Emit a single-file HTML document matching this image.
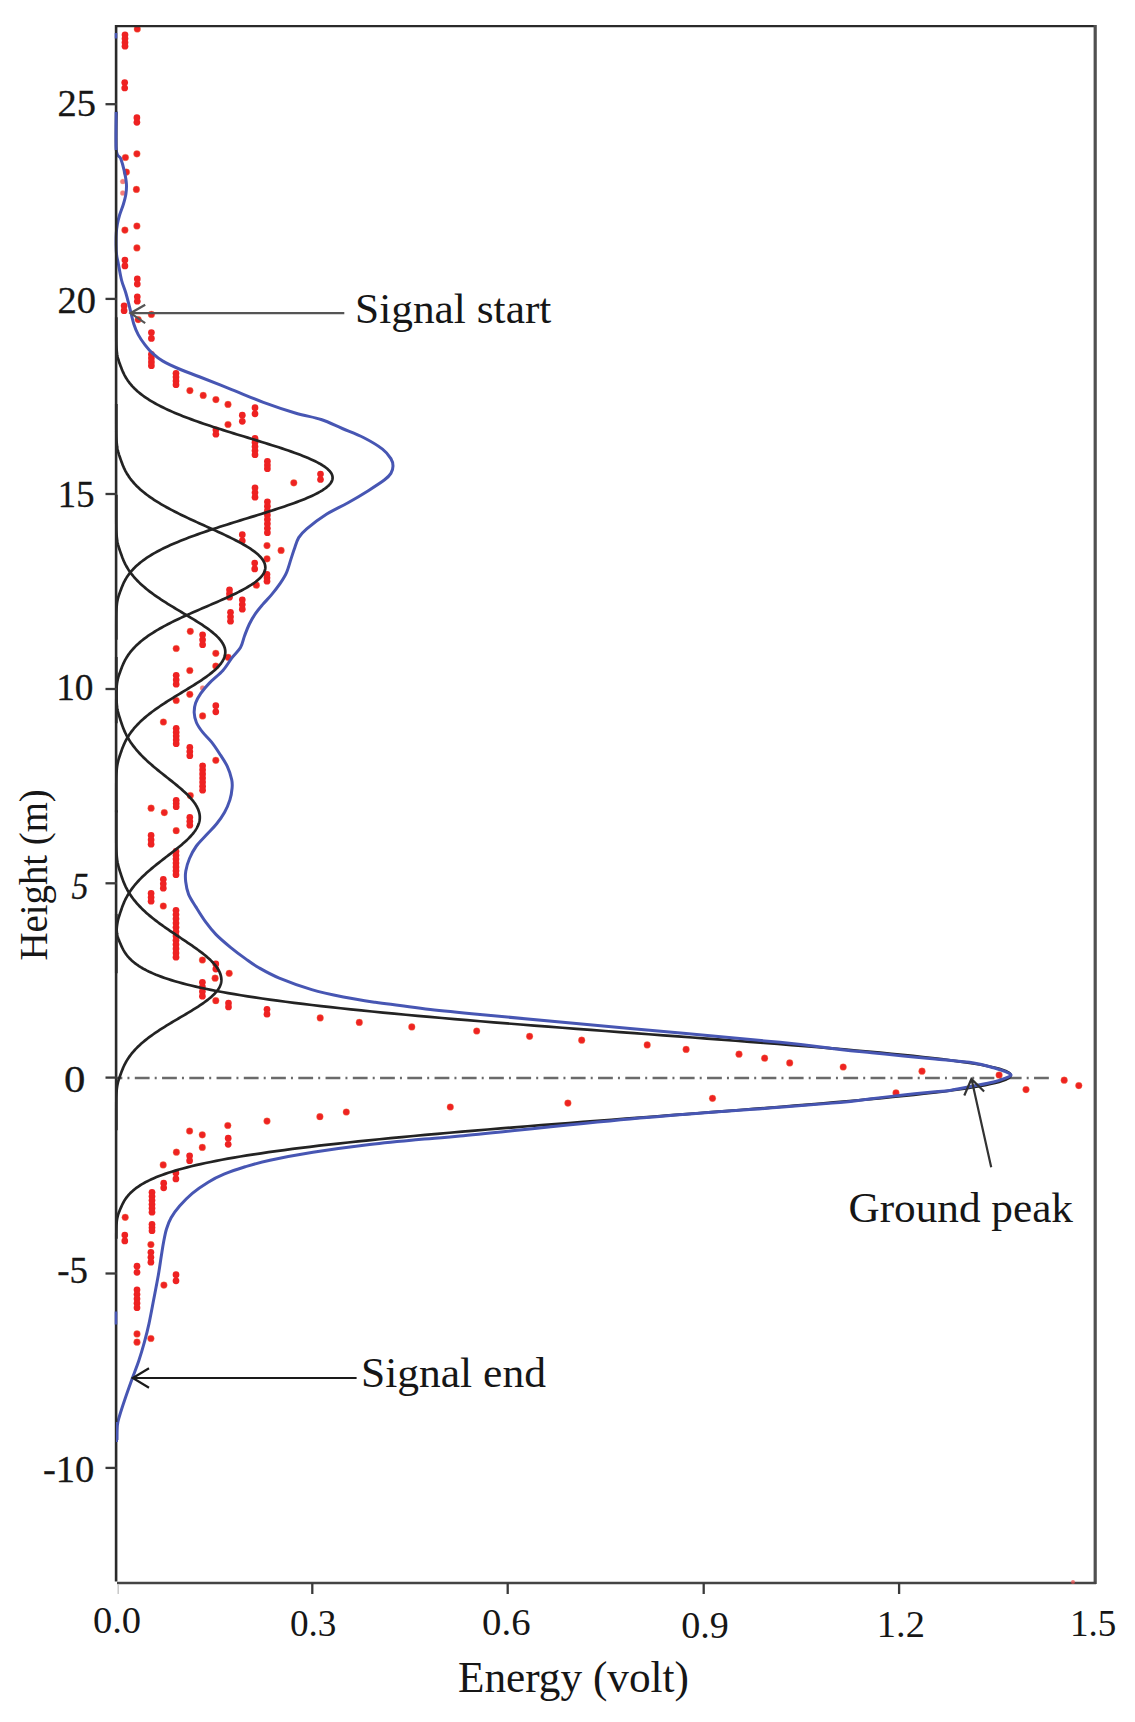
<!DOCTYPE html>
<html><head><meta charset="utf-8"><style>
html,body{margin:0;padding:0;background:#fff;overflow:hidden}
svg{display:block}
text{font-family:"Liberation Serif",serif;fill:#161616}
.yl text{stroke:#161616;stroke-width:0.3px}
</style></head><body>
<svg width="1135" height="1722" viewBox="0 0 1135 1722">
<rect width="1135" height="1722" fill="#fff"/>
<line x1="117" y1="1078" x2="1050" y2="1078" stroke="#6a6a6a" stroke-width="2.4" stroke-dasharray="14.8 5.1 2 5.35" stroke-dashoffset="9.45"/>
<g fill="#ee2222" stroke="#f48a50" stroke-opacity="0.35" stroke-width="1"><circle cx="137.3" cy="29" r="3.35"/><circle cx="136.9" cy="153.8" r="3.35"/><circle cx="125.4" cy="157.5" r="3.35"/><circle cx="126.4" cy="172.1" r="3.35"/><circle cx="136.4" cy="189.4" r="3.35"/><circle cx="136.9" cy="226" r="3.35"/><circle cx="124.9" cy="230.1" r="3.35"/><circle cx="136.9" cy="247.9" r="3.35"/><circle cx="151.4" cy="314.4" r="3.35"/><circle cx="138.2" cy="319.6" r="3.35"/><circle cx="189.9" cy="390.6" r="3.35"/><circle cx="203.2" cy="395.4" r="3.35"/><circle cx="215.9" cy="399.6" r="3.35"/><circle cx="228" cy="404.4" r="3.35"/><circle cx="228" cy="424.5" r="3.35"/><circle cx="293.8" cy="482.8" r="3.35"/><circle cx="267" cy="545.6" r="3.35"/><circle cx="281.1" cy="550.4" r="3.35"/><circle cx="267" cy="558.8" r="3.35"/><circle cx="256.4" cy="585.2" r="3.35"/><circle cx="190.3" cy="631.3" r="3.35"/><circle cx="176.2" cy="648.5" r="3.35"/><circle cx="215.8" cy="653.3" r="3.35"/><circle cx="228.1" cy="657.3" r="3.35"/><circle cx="215.8" cy="666.1" r="3.35"/><circle cx="189.8" cy="670.5" r="3.35"/><circle cx="189.8" cy="694.3" r="3.35"/><circle cx="176.2" cy="700.5" r="3.35"/><circle cx="202.6" cy="715.9" r="3.35"/><circle cx="163.4" cy="722" r="3.35"/><circle cx="215.8" cy="760.3" r="3.35"/><circle cx="190.3" cy="795.5" r="3.35"/><circle cx="151.1" cy="808.2" r="3.35"/><circle cx="164.3" cy="812.6" r="3.35"/><circle cx="176.2" cy="830.7" r="3.35"/><circle cx="163.3" cy="906" r="3.35"/><circle cx="202.4" cy="960" r="3.35"/><circle cx="229.2" cy="973.3" r="3.35"/><circle cx="215.1" cy="978.2" r="3.35"/><circle cx="215.8" cy="1000.7" r="3.35"/><circle cx="320.2" cy="1017.9" r="3.35"/><circle cx="359.3" cy="1022.4" r="3.35"/><circle cx="411.8" cy="1026.9" r="3.35"/><circle cx="476.7" cy="1031" r="3.35"/><circle cx="529.6" cy="1036.3" r="3.35"/><circle cx="581.7" cy="1040.2" r="3.35"/><circle cx="647.2" cy="1044.9" r="3.35"/><circle cx="686.1" cy="1049.4" r="3.35"/><circle cx="739" cy="1054.2" r="3.35"/><circle cx="764.6" cy="1058.2" r="3.35"/><circle cx="789.7" cy="1062.9" r="3.35"/><circle cx="843.2" cy="1067" r="3.35"/><circle cx="922" cy="1071.2" r="3.35"/><circle cx="999.1" cy="1075" r="3.35"/><circle cx="1026" cy="1089.6" r="3.35"/><circle cx="1064.2" cy="1080.2" r="3.35"/><circle cx="1078.8" cy="1085.6" r="3.35"/><circle cx="896" cy="1092.9" r="3.35"/><circle cx="712.5" cy="1098.3" r="3.35"/><circle cx="567.9" cy="1103.1" r="3.35"/><circle cx="450.3" cy="1107" r="3.35"/><circle cx="346.3" cy="1112" r="3.35"/><circle cx="319.9" cy="1116.7" r="3.35"/><circle cx="267" cy="1121.1" r="3.35"/><circle cx="227.8" cy="1125.5" r="3.35"/><circle cx="189.6" cy="1131" r="3.35"/><circle cx="202.3" cy="1134.8" r="3.35"/><circle cx="202.3" cy="1147.4" r="3.35"/><circle cx="176.4" cy="1152.2" r="3.35"/><circle cx="163.2" cy="1164.9" r="3.35"/><circle cx="125.2" cy="1217.3" r="3.35"/><circle cx="150.9" cy="1244.6" r="3.35"/><circle cx="163.9" cy="1285.1" r="3.35"/><circle cx="137" cy="1333.9" r="3.35"/><circle cx="137" cy="1342.2" r="3.35"/><circle cx="150.9" cy="1338.5" r="3.35"/><circle cx="122.8" cy="181.5" r="2.6" opacity="0.6"/><circle cx="202.6" cy="688.1" r="2.6" opacity="0.6"/><circle cx="122.8" cy="193" r="2.6" opacity="0.6"/></g>
<g fill="#ee2222"><circle cx="125" cy="34.8" r="3.35"/><circle cx="125" cy="38.6" r="3.35"/><circle cx="125" cy="42.4" r="3.35"/><circle cx="125" cy="46.2" r="3.35"/><circle cx="124.7" cy="82.49" r="3.35"/><circle cx="124.7" cy="88.01" r="3.35"/><circle cx="136.9" cy="117.72" r="3.35"/><circle cx="136.9" cy="122.28" r="3.35"/><circle cx="124.9" cy="260.07" r="3.35"/><circle cx="124.9" cy="265.93" r="3.35"/><circle cx="137.3" cy="278.9" r="3.35"/><circle cx="137.3" cy="284.1" r="3.35"/><circle cx="137.3" cy="296.73" r="3.35"/><circle cx="137.3" cy="301.27" r="3.35"/><circle cx="124.1" cy="305.81" r="3.35"/><circle cx="124.1" cy="310.69" r="3.35"/><circle cx="151.4" cy="332.57" r="3.35"/><circle cx="151.4" cy="338.43" r="3.35"/><circle cx="151.4" cy="354.3" r="3.35"/><circle cx="151.4" cy="358.1" r="3.35"/><circle cx="151.4" cy="361.9" r="3.35"/><circle cx="151.4" cy="365.7" r="3.35"/><circle cx="176" cy="373.3" r="3.35"/><circle cx="176" cy="377.1" r="3.35"/><circle cx="176" cy="380.9" r="3.35"/><circle cx="176" cy="384.7" r="3.35"/><circle cx="255" cy="407.66" r="3.35"/><circle cx="255" cy="413.84" r="3.35"/><circle cx="242.3" cy="415.16" r="3.35"/><circle cx="242.3" cy="421.34" r="3.35"/><circle cx="215.9" cy="429.73" r="3.35"/><circle cx="215.9" cy="434.27" r="3.35"/><circle cx="255" cy="438.3" r="3.35"/><circle cx="255" cy="442.4" r="3.35"/><circle cx="255" cy="446.5" r="3.35"/><circle cx="255" cy="450.6" r="3.35"/><circle cx="255" cy="454.7" r="3.35"/><circle cx="267.4" cy="461.3" r="3.35"/><circle cx="267.4" cy="465" r="3.35"/><circle cx="267.4" cy="468.7" r="3.35"/><circle cx="320.5" cy="473.99" r="3.35"/><circle cx="320.5" cy="479.51" r="3.35"/><circle cx="255" cy="487.8" r="3.35"/><circle cx="255" cy="492.5" r="3.35"/><circle cx="255" cy="497.2" r="3.35"/><circle cx="267.4" cy="501.8" r="3.35"/><circle cx="267.4" cy="506.21" r="3.35"/><circle cx="267.4" cy="510.63" r="3.35"/><circle cx="267.4" cy="515.04" r="3.35"/><circle cx="267.4" cy="519.46" r="3.35"/><circle cx="267.4" cy="523.87" r="3.35"/><circle cx="267.4" cy="528.29" r="3.35"/><circle cx="267.4" cy="532.7" r="3.35"/><circle cx="242.3" cy="534.66" r="3.35"/><circle cx="242.3" cy="540.84" r="3.35"/><circle cx="254.7" cy="563.08" r="3.35"/><circle cx="254.7" cy="568.92" r="3.35"/><circle cx="267" cy="574.3" r="3.35"/><circle cx="267" cy="577.75" r="3.35"/><circle cx="267" cy="581.2" r="3.35"/><circle cx="229.5" cy="589.8" r="3.35"/><circle cx="229.5" cy="593.5" r="3.35"/><circle cx="229.5" cy="597.2" r="3.35"/><circle cx="242.3" cy="599.8" r="3.35"/><circle cx="242.3" cy="604.5" r="3.35"/><circle cx="242.3" cy="609.2" r="3.35"/><circle cx="230.5" cy="612.3" r="3.35"/><circle cx="230.5" cy="616.75" r="3.35"/><circle cx="230.5" cy="621.2" r="3.35"/><circle cx="202.6" cy="634.8" r="3.35"/><circle cx="202.6" cy="639.75" r="3.35"/><circle cx="202.6" cy="644.7" r="3.35"/><circle cx="176.2" cy="675.3" r="3.35"/><circle cx="176.2" cy="679.75" r="3.35"/><circle cx="176.2" cy="684.2" r="3.35"/><circle cx="215.8" cy="705.66" r="3.35"/><circle cx="215.8" cy="711.84" r="3.35"/><circle cx="176.2" cy="728.3" r="3.35"/><circle cx="176.2" cy="732.15" r="3.35"/><circle cx="176.2" cy="736" r="3.35"/><circle cx="176.2" cy="739.85" r="3.35"/><circle cx="176.2" cy="743.7" r="3.35"/><circle cx="189.8" cy="747.3" r="3.35"/><circle cx="189.8" cy="751.5" r="3.35"/><circle cx="189.8" cy="755.7" r="3.35"/><circle cx="202.6" cy="765.8" r="3.35"/><circle cx="202.6" cy="769.87" r="3.35"/><circle cx="202.6" cy="773.93" r="3.35"/><circle cx="202.6" cy="778" r="3.35"/><circle cx="202.6" cy="782.07" r="3.35"/><circle cx="202.6" cy="786.13" r="3.35"/><circle cx="202.6" cy="790.2" r="3.35"/><circle cx="176.2" cy="800.25" r="3.35"/><circle cx="176.2" cy="803.5" r="3.35"/><circle cx="176.2" cy="806.75" r="3.35"/><circle cx="189.8" cy="817.3" r="3.35"/><circle cx="189.8" cy="821.25" r="3.35"/><circle cx="189.8" cy="825.2" r="3.35"/><circle cx="151.1" cy="835.3" r="3.35"/><circle cx="151.1" cy="839.75" r="3.35"/><circle cx="151.1" cy="844.2" r="3.35"/><circle cx="176" cy="851.3" r="3.35"/><circle cx="176" cy="855.2" r="3.35"/><circle cx="176" cy="859.1" r="3.35"/><circle cx="176" cy="863" r="3.35"/><circle cx="176" cy="866.9" r="3.35"/><circle cx="176" cy="870.8" r="3.35"/><circle cx="176" cy="874.7" r="3.35"/><circle cx="163.3" cy="879.3" r="3.35"/><circle cx="163.3" cy="883.75" r="3.35"/><circle cx="163.3" cy="888.2" r="3.35"/><circle cx="151.1" cy="893.3" r="3.35"/><circle cx="151.1" cy="897.25" r="3.35"/><circle cx="151.1" cy="901.2" r="3.35"/><circle cx="176" cy="910.3" r="3.35"/><circle cx="176" cy="914.56" r="3.35"/><circle cx="176" cy="918.83" r="3.35"/><circle cx="176" cy="923.09" r="3.35"/><circle cx="176" cy="927.35" r="3.35"/><circle cx="176" cy="931.62" r="3.35"/><circle cx="176" cy="935.88" r="3.35"/><circle cx="176" cy="940.15" r="3.35"/><circle cx="176" cy="944.41" r="3.35"/><circle cx="176" cy="948.67" r="3.35"/><circle cx="176" cy="952.94" r="3.35"/><circle cx="176" cy="957.2" r="3.35"/><circle cx="215.8" cy="963.9" r="3.35"/><circle cx="215.8" cy="969.1" r="3.35"/><circle cx="202.4" cy="982.3" r="3.35"/><circle cx="202.4" cy="986.93" r="3.35"/><circle cx="202.4" cy="991.57" r="3.35"/><circle cx="202.4" cy="996.2" r="3.35"/><circle cx="228.5" cy="1003.05" r="3.35"/><circle cx="228.5" cy="1006.95" r="3.35"/><circle cx="267" cy="1009.31" r="3.35"/><circle cx="267" cy="1014.19" r="3.35"/><circle cx="228.2" cy="1138.16" r="3.35"/><circle cx="228.2" cy="1144.34" r="3.35"/><circle cx="189.6" cy="1155.81" r="3.35"/><circle cx="189.6" cy="1160.69" r="3.35"/><circle cx="175.9" cy="1173.08" r="3.35"/><circle cx="175.9" cy="1178.92" r="3.35"/><circle cx="163.7" cy="1183.22" r="3.35"/><circle cx="163.7" cy="1187.78" r="3.35"/><circle cx="152" cy="1192.3" r="3.35"/><circle cx="152" cy="1196.28" r="3.35"/><circle cx="152" cy="1200.26" r="3.35"/><circle cx="152" cy="1204.24" r="3.35"/><circle cx="152" cy="1208.22" r="3.35"/><circle cx="152" cy="1212.2" r="3.35"/><circle cx="152" cy="1224.25" r="3.35"/><circle cx="152" cy="1227.5" r="3.35"/><circle cx="152" cy="1230.75" r="3.35"/><circle cx="124.8" cy="1235.08" r="3.35"/><circle cx="124.8" cy="1240.92" r="3.35"/><circle cx="150.9" cy="1252.3" r="3.35"/><circle cx="150.9" cy="1257.25" r="3.35"/><circle cx="150.9" cy="1262.2" r="3.35"/><circle cx="137" cy="1266.16" r="3.35"/><circle cx="137" cy="1272.34" r="3.35"/><circle cx="176" cy="1274.66" r="3.35"/><circle cx="176" cy="1280.84" r="3.35"/><circle cx="137" cy="1289.8" r="3.35"/><circle cx="137" cy="1294.28" r="3.35"/><circle cx="137" cy="1298.75" r="3.35"/><circle cx="137" cy="1303.22" r="3.35"/><circle cx="137" cy="1307.7" r="3.35"/></g>
<g fill="none" stroke="#232323" stroke-width="2.7" stroke-linejoin="round"><path d="M116.3 317.31L116.3 318.39L116.3 319.46L116.3 320.54L116.3 321.61L116.3 322.69L116.3 323.76L116.3 324.84L116.3 325.91L116.3 326.98L116.3 328.06L116.3 329.13L116.3 330.21L116.3 331.28L116.3 332.36L116.31 333.43L116.31 334.51L116.31 335.58L116.31 336.65L116.32 337.73L116.32 338.8L116.33 339.88L116.34 340.95L116.35 342.03L116.37 343.1L116.39 344.18L116.42 345.25L116.45 346.32L116.49 347.4L116.55 348.47L116.61 349.55L116.7 350.62L116.8 351.7L116.92 352.77L117.06 353.85L117.23 354.92L117.44 355.99L117.67 357.07L117.93 358.14L118.23 359.22L118.55 360.29L118.9 361.37L119.27 362.44L119.65 363.52L120.05 364.59L120.45 365.66L120.86 366.74L121.28 367.81L121.7 368.89L122.13 369.96L122.57 371.04L123.04 372.11L123.54 373.19L124.06 374.26L124.61 375.34L125.2 376.41L125.82 377.48L126.47 378.56L127.17 379.63L127.9 380.71L128.67 381.78L129.48 382.86L130.34 383.93L131.24 385.01L132.19 386.08L133.19 387.15L134.24 388.23L135.34 389.3L136.49 390.38L137.69 391.45L138.96 392.53L140.27 393.6L141.65 394.68L143.09 395.75L144.59 396.82L146.15 397.9L147.77 398.97L149.46 400.05L151.21 401.12L153.03 402.2L154.92 403.27L156.87 404.35L158.9 405.42L160.99 406.49L163.15 407.57L165.38 408.64L167.68 409.72L170.05 410.79L172.49 411.87L174.99 412.94L177.57 414.02L180.21 415.09L182.91 416.16L185.69 417.24L188.52 418.31L191.42 419.39L194.38 420.46L197.39 421.54L200.46 422.61L203.59 423.69L206.76 424.76L209.99 425.84L213.26 426.91L216.57 427.98L219.92 429.06L223.31 430.13L226.72 431.21L230.17 432.28L233.63 433.36L237.12 434.43L240.62 435.51L244.13 436.58L247.65 437.65L251.16 438.73L254.67 439.8L258.17 440.88L261.65 441.95L265.11 443.03L268.55 444.1L271.95 445.18L275.31 446.25L278.63 447.32L281.9 448.4L285.12 449.47L288.27 450.55L291.36 451.62L294.37 452.7L297.31 453.77L300.16 454.85L302.92 455.92L305.59 456.99L308.16 458.07L310.62 459.14L312.98 460.22L315.22 461.29L317.34 462.37L319.34 463.44L321.21 464.52L322.95 465.59L324.55 466.66L326.02 467.74L327.35 468.81L328.53 469.89L329.56 470.96L330.45 472.04L331.19 473.11L331.77 474.19L332.2 475.26L332.47 476.34L332.59 477.41L332.56 478.48L332.37 479.56L332.04 480.63L331.55 481.71L330.91 482.78L330.12 483.86L329.18 484.93L328.1 486.01L326.88 487.08L325.52 488.15L324.01 489.23L322.38 490.3L320.61 491.38L318.72 492.45L316.7 493.53L314.56 494.6L312.31 495.68L309.95 496.75L307.48 497.82L304.91 498.9L302.24 499.97L299.48 501.05L296.64 502.12L293.71 503.2L290.71 504.27L287.64 505.35L284.5 506.42L281.31 507.49L278.06 508.57L274.76 509.64L271.43 510.72L268.05 511.79L264.65 512.87L261.22 513.94L257.76 515.02L254.3 516.09L250.82 517.16L247.34 518.24L243.86 519.31L240.39 520.39L236.92 521.46L233.47 522.54L230.03 523.61L226.62 524.69L223.24 525.76L219.89 526.84L216.57 527.91L213.29 528.98L210.05 530.06L206.86 531.13L203.71 532.21L200.61 533.28L197.57 534.36L194.58 535.43L191.64 536.51L188.77 537.58L185.96 538.65L183.21 539.73L180.52 540.8L177.89 541.88L175.34 542.95L172.84 544.03L170.42 545.1L168.06 546.18L165.77 547.25L163.55 548.32L161.4 549.4L159.31 550.47L157.3 551.55L155.34 552.62L153.46 553.7L151.64 554.77L149.89 555.85L148.2 556.92L146.58 557.99L145.01 559.07L143.51 560.14L142.07 561.22L140.69 562.29L139.37 563.37L138.1 564.44L136.89 565.52L135.73 566.59L134.62 567.66L133.57 568.74L132.56 569.81L131.6 570.89L130.69 571.96L129.83 573.04L129 574.11L128.22 575.19L127.48 576.26L126.77 577.34L126.11 578.41L125.48 579.48L124.88 580.56L124.32 581.63L123.79 582.71L123.29 583.78L122.81 584.86L122.36 585.93L121.92 587.01L121.5 588.08L121.09 589.15L120.68 590.23L120.28 591.3L119.88 592.38L119.49 593.45L119.12 594.53L118.76 595.6L118.42 596.68L118.11 597.75L117.83 598.82L117.58 599.9L117.36 600.97L117.17 602.05L117.01 603.12L116.88 604.2L116.76 605.27L116.67 606.35L116.59 607.42L116.53 608.49L116.48 609.57L116.44 610.64L116.41 611.72L116.39 612.79L116.37 613.87L116.35 614.94L116.34 616.02L116.33 617.09L116.32 618.16L116.32 619.24L116.31 620.31L116.31 621.39L116.31 622.46L116.31 623.54L116.3 624.61L116.3 625.69L116.3 626.76L116.3 627.84L116.3 628.91L116.3 629.98L116.3 631.06L116.3 632.13L116.3 633.21L116.3 634.28L116.3 635.36L116.3 636.43L116.3 637.51L116.3 638.58L116.3 639.65"/><path d="M116.3 404.01L116.3 405.08L116.3 406.14L116.3 407.2L116.3 408.27L116.3 409.33L116.3 410.4L116.3 411.46L116.3 412.52L116.3 413.59L116.3 414.65L116.3 415.72L116.3 416.78L116.3 417.84L116.3 418.91L116.3 419.97L116.3 421.04L116.3 422.1L116.3 423.16L116.31 424.23L116.31 425.29L116.31 426.36L116.31 427.42L116.32 428.48L116.32 429.55L116.33 430.61L116.33 431.68L116.34 432.74L116.35 433.81L116.37 434.87L116.39 435.93L116.41 437L116.44 438.06L116.48 439.13L116.53 440.19L116.58 441.25L116.65 442.32L116.74 443.38L116.84 444.45L116.96 445.51L117.1 446.57L117.27 447.64L117.46 448.7L117.68 449.77L117.93 450.83L118.2 451.89L118.5 452.96L118.82 454.02L119.15 455.09L119.51 456.15L119.87 457.22L120.24 458.28L120.62 459.34L120.99 460.41L121.38 461.47L121.76 462.54L122.16 463.6L122.58 464.66L123.01 465.73L123.46 466.79L123.93 467.86L124.43 468.92L124.95 469.98L125.5 471.05L126.08 472.11L126.69 473.18L127.33 474.24L128 475.3L128.7 476.37L129.44 477.43L130.21 478.5L131.02 479.56L131.86 480.63L132.74 481.69L133.66 482.75L134.62 483.82L135.61 484.88L136.65 485.95L137.73 487.01L138.85 488.07L140.01 489.14L141.21 490.2L142.46 491.27L143.75 492.33L145.09 493.39L146.47 494.46L147.9 495.52L149.37 496.59L150.88 497.65L152.45 498.71L154.05 499.78L155.7 500.84L157.4 501.91L159.14 502.97L160.92 504.04L162.75 505.1L164.61 506.16L166.52 507.23L168.47 508.29L170.45 509.36L172.48 510.42L174.54 511.48L176.64 512.55L178.76 513.61L180.92 514.68L183.11 515.74L185.33 516.8L187.57 517.87L189.83 518.93L192.12 520L194.42 521.06L196.74 522.12L199.07 523.19L201.41 524.25L203.76 525.32L206.11 526.38L208.47 527.45L210.82 528.51L213.16 529.57L215.5 530.64L217.82 531.7L220.13 532.77L222.41 533.83L224.68 534.89L226.92 535.96L229.12 537.02L231.3 538.09L233.43 539.15L235.53 540.21L237.58 541.28L239.58 542.34L241.53 543.41L243.42 544.47L245.26 545.53L247.03 546.6L248.74 547.66L250.38 548.73L251.95 549.79L253.44 550.85L254.86 551.92L256.2 552.98L257.45 554.05L258.62 555.11L259.7 556.18L260.69 557.24L261.59 558.3L262.39 559.37L263.1 560.43L263.72 561.5L264.23 562.56L264.65 563.62L264.97 564.69L265.19 565.75L265.3 566.82L265.32 567.88L265.22 568.94L265.02 570.01L264.7 571.07L264.28 572.14L263.74 573.2L263.1 574.26L262.35 575.33L261.5 576.39L260.54 577.46L259.49 578.52L258.33 579.59L257.08 580.65L255.74 581.71L254.3 582.78L252.78 583.84L251.18 584.91L249.49 585.97L247.73 587.03L245.89 588.1L243.98 589.16L242.01 590.23L239.97 591.29L237.88 592.35L235.74 593.42L233.54 594.48L231.3 595.55L229.01 596.61L226.69 597.67L224.34 598.74L221.96 599.8L219.55 600.87L217.12 601.93L214.68 603L212.22 604.06L209.76 605.12L207.29 606.19L204.82 607.25L202.35 608.32L199.89 609.38L197.44 610.44L195 611.51L192.58 612.57L190.18 613.64L187.8 614.7L185.44 615.76L183.11 616.83L180.81 617.89L178.55 618.96L176.32 620.02L174.13 621.08L171.97 622.15L169.85 623.21L167.78 624.28L165.75 625.34L163.77 626.41L161.83 627.47L159.93 628.53L158.09 629.6L156.29 630.66L154.54 631.73L152.84 632.79L151.19 633.85L149.59 634.92L148.04 635.98L146.54 637.05L145.09 638.11L143.69 639.17L142.33 640.24L141.03 641.3L139.77 642.37L138.56 643.43L137.4 644.49L136.28 645.56L135.21 646.62L134.18 647.69L133.2 648.75L132.25 649.82L131.35 650.88L130.49 651.94L129.67 653.01L128.88 654.07L128.14 655.14L127.43 656.2L126.75 657.26L126.11 658.33L125.5 659.39L124.92 660.46L124.37 661.52L123.86 662.58L123.36 663.65L122.9 664.71L122.45 665.78L122.02 666.84L121.61 667.9L121.2 668.97L120.8 670.03L120.41 671.1L120.02 672.16L119.63 673.22L119.26 674.29L118.9 675.35L118.56 676.42L118.24 677.48L117.95 678.55L117.69 679.61L117.46 680.67L117.26 681.74L117.09 682.8L116.94 683.87L116.82 684.93L116.72 685.99L116.63 687.06L116.56 688.12L116.51 689.19L116.46 690.25L116.43 691.31L116.4 692.38L116.38 693.44L116.36 694.51L116.35 695.57L116.34 696.63L116.33 697.7L116.32 698.76L116.32 699.83L116.31 700.89L116.31 701.96L116.31 703.02L116.31 704.08L116.3 705.15L116.3 706.21L116.3 707.28L116.3 708.34L116.3 709.4L116.3 710.47L116.3 711.53L116.3 712.6L116.3 713.66L116.3 714.72L116.3 715.79L116.3 716.85L116.3 717.92L116.3 718.98L116.3 720.04L116.3 721.11L116.3 722.17L116.3 723.24"/><path d="M116.3 494.72L116.3 495.78L116.3 496.84L116.3 497.89L116.3 498.95L116.3 500.01L116.3 501.07L116.3 502.13L116.3 503.19L116.3 504.25L116.3 505.31L116.3 506.37L116.3 507.42L116.3 508.48L116.3 509.54L116.3 510.6L116.3 511.66L116.3 512.72L116.3 513.78L116.3 514.84L116.3 515.9L116.3 516.95L116.31 518.01L116.31 519.07L116.31 520.13L116.31 521.19L116.32 522.25L116.32 523.31L116.33 524.37L116.34 525.43L116.35 526.48L116.36 527.54L116.38 528.6L116.4 529.66L116.42 530.72L116.46 531.78L116.5 532.84L116.55 533.9L116.61 534.96L116.68 536.01L116.77 537.07L116.88 538.13L117.01 539.19L117.16 540.25L117.33 541.31L117.53 542.37L117.76 543.43L118.01 544.49L118.29 545.54L118.59 546.6L118.91 547.66L119.25 548.72L119.61 549.78L119.97 550.84L120.34 551.9L120.71 552.96L121.08 554.02L121.46 555.07L121.84 556.13L122.24 557.19L122.64 558.25L123.07 559.31L123.51 560.37L123.98 561.43L124.47 562.49L124.98 563.55L125.52 564.61L126.09 565.66L126.68 566.72L127.3 567.78L127.95 568.84L128.62 569.9L129.33 570.96L130.07 572.02L130.84 573.08L131.64 574.14L132.48 575.19L133.35 576.25L134.25 577.31L135.18 578.37L136.15 579.43L137.16 580.49L138.2 581.55L139.27 582.61L140.38 583.67L141.52 584.72L142.7 585.78L143.92 586.84L145.17 587.9L146.45 588.96L147.77 590.02L149.12 591.08L150.51 592.14L151.93 593.2L153.38 594.25L154.86 595.31L156.37 596.37L157.91 597.43L159.48 598.49L161.08 599.55L162.7 600.61L164.34 601.67L166.01 602.73L167.7 603.78L169.41 604.84L171.13 605.9L172.87 606.96L174.62 608.02L176.38 609.08L178.15 610.14L179.92 611.2L181.7 612.26L183.48 613.31L185.26 614.37L187.04 615.43L188.8 616.49L190.56 617.55L192.31 618.61L194.04 619.67L195.75 620.73L197.44 621.79L199.11 622.84L200.75 623.9L202.35 624.96L203.93 626.02L205.47 627.08L206.97 628.14L208.43 629.2L209.85 630.26L211.22 631.32L212.54 632.37L213.8 633.43L215.02 634.49L216.17 635.55L217.26 636.61L218.3 637.67L219.27 638.73L220.17 639.79L221 640.85L221.77 641.9L222.46 642.96L223.08 644.02L223.63 645.08L224.1 646.14L224.49 647.2L224.81 648.26L225.05 649.32L225.21 650.38L225.29 651.43L225.29 652.49L225.22 653.55L225.07 654.61L224.84 655.67L224.54 656.73L224.17 657.79L223.72 658.85L223.2 659.91L222.6 660.96L221.94 662.02L221.21 663.08L220.41 664.14L219.54 665.2L218.61 666.26L217.62 667.32L216.57 668.38L215.46 669.44L214.29 670.49L213.07 671.55L211.8 672.61L210.48 673.67L209.11 674.73L207.7 675.79L206.25 676.85L204.76 677.91L203.23 678.97L201.67 680.02L200.08 681.08L198.46 682.14L196.82 683.2L195.15 684.26L193.47 685.32L191.77 686.38L190.05 687.44L188.32 688.5L186.59 689.55L184.85 690.61L183.1 691.67L181.36 692.73L179.61 693.79L177.87 694.85L176.14 695.91L174.41 696.97L172.7 698.03L170.99 699.08L169.31 700.14L167.63 701.2L165.98 702.26L164.34 703.32L162.73 704.38L161.14 705.44L159.58 706.5L158.03 707.56L156.52 708.61L155.04 709.67L153.58 710.73L152.15 711.79L150.76 712.85L149.39 713.91L148.06 714.97L146.76 716.03L145.49 717.09L144.25 718.14L143.05 719.2L141.89 720.26L140.75 721.32L139.65 722.38L138.59 723.44L137.56 724.5L136.56 725.56L135.59 726.62L134.66 727.68L133.76 728.73L132.9 729.79L132.06 730.85L131.26 731.91L130.49 732.97L129.75 734.03L129.03 735.09L128.35 736.15L127.7 737.21L127.07 738.26L126.47 739.32L125.9 740.38L125.36 741.44L124.83 742.5L124.34 743.56L123.86 744.62L123.41 745.68L122.98 746.74L122.57 747.79L122.17 748.85L121.79 749.91L121.41 750.97L121.04 752.03L120.67 753.09L120.31 754.15L119.95 755.21L119.6 756.27L119.25 757.32L118.92 758.38L118.6 759.44L118.3 760.5L118.03 761.56L117.78 762.62L117.55 763.68L117.35 764.74L117.18 765.8L117.03 766.85L116.9 767.91L116.79 768.97L116.7 770.03L116.62 771.09L116.56 772.15L116.51 773.21L116.47 774.27L116.43 775.33L116.4 776.38L116.38 777.44L116.36 778.5L116.35 779.56L116.34 780.62L116.33 781.68L116.32 782.74L116.32 783.8L116.31 784.86L116.31 785.91L116.31 786.97L116.31 788.03L116.3 789.09L116.3 790.15L116.3 791.21L116.3 792.27L116.3 793.33L116.3 794.39L116.3 795.44L116.3 796.5L116.3 797.56L116.3 798.62L116.3 799.68L116.3 800.74L116.3 801.8L116.3 802.86L116.3 803.92L116.3 804.97L116.3 806.03L116.3 807.09L116.3 808.15L116.3 809.21L116.3 810.27L116.3 811.33L116.3 812.39"/><path d="M116.3 657.09L116.3 658.15L116.3 659.2L116.3 660.26L116.3 661.31L116.3 662.36L116.3 663.42L116.3 664.47L116.3 665.52L116.3 666.58L116.3 667.63L116.3 668.69L116.3 669.74L116.3 670.79L116.3 671.85L116.3 672.9L116.3 673.95L116.3 675.01L116.3 676.06L116.3 677.12L116.3 678.17L116.3 679.22L116.3 680.28L116.3 681.33L116.3 682.38L116.3 683.44L116.31 684.49L116.31 685.54L116.31 686.6L116.31 687.65L116.32 688.71L116.32 689.76L116.33 690.81L116.34 691.87L116.35 692.92L116.36 693.97L116.37 695.03L116.39 696.08L116.42 697.14L116.45 698.19L116.48 699.24L116.53 700.3L116.58 701.35L116.65 702.4L116.73 703.46L116.82 704.51L116.93 705.57L117.06 706.62L117.2 707.67L117.37 708.73L117.57 709.78L117.78 710.83L118.02 711.89L118.29 712.94L118.57 714L118.87 715.05L119.19 716.1L119.52 717.16L119.85 718.21L120.19 719.26L120.54 720.32L120.89 721.37L121.24 722.42L121.59 723.48L121.95 724.53L122.32 725.59L122.7 726.64L123.1 727.69L123.51 728.75L123.94 729.8L124.39 730.85L124.86 731.91L125.35 732.96L125.87 734.02L126.4 735.07L126.96 736.12L127.54 737.18L128.14 738.23L128.77 739.28L129.42 740.34L130.09 741.39L130.79 742.45L131.52 743.5L132.27 744.55L133.05 745.61L133.85 746.66L134.68 747.71L135.53 748.77L136.41 749.82L137.31 750.87L138.24 751.93L139.2 752.98L140.18 754.04L141.18 755.09L142.21 756.14L143.27 757.2L144.34 758.25L145.44 759.3L146.57 760.36L147.71 761.41L148.87 762.47L150.06 763.52L151.26 764.57L152.48 765.63L153.72 766.68L154.97 767.73L156.24 768.79L157.52 769.84L158.82 770.9L160.12 771.95L161.43 773L162.75 774.06L164.08 775.11L165.4 776.16L166.73 777.22L168.06 778.27L169.39 779.32L170.72 780.38L172.04 781.43L173.35 782.49L174.66 783.54L175.95 784.59L177.23 785.65L178.49 786.7L179.74 787.75L180.96 788.81L182.17 789.86L183.35 790.92L184.5 791.97L185.63 793.02L186.72 794.08L187.79 795.13L188.82 796.18L189.81 797.24L190.77 798.29L191.68 799.35L192.56 800.4L193.39 801.45L194.18 802.51L194.92 803.56L195.61 804.61L196.26 805.67L196.85 806.72L197.39 807.77L197.88 808.83L198.32 809.88L198.7 810.94L199.03 811.99L199.3 813.04L199.51 814.1L199.67 815.15L199.77 816.2L199.81 817.26L199.79 818.31L199.71 819.37L199.57 820.42L199.37 821.47L199.11 822.53L198.79 823.58L198.41 824.63L197.98 825.69L197.48 826.74L196.93 827.8L196.33 828.85L195.67 829.9L194.96 830.96L194.19 832.01L193.38 833.06L192.53 834.12L191.62 835.17L190.67 836.22L189.68 837.28L188.66 838.33L187.59 839.39L186.48 840.44L185.35 841.49L184.18 842.55L182.98 843.6L181.76 844.65L180.51 845.71L179.24 846.76L177.95 847.82L176.64 848.87L175.32 849.92L173.98 850.98L172.63 852.03L171.28 853.08L169.91 854.14L168.54 855.19L167.17 856.25L165.8 857.3L164.43 858.35L163.07 859.41L161.71 860.46L160.36 861.51L159.01 862.57L157.68 863.62L156.36 864.67L155.05 865.73L153.76 866.78L152.48 867.84L151.23 868.89L149.99 869.94L148.77 871L147.57 872.05L146.4 873.1L145.24 874.16L144.12 875.21L143.01 876.27L141.93 877.32L140.88 878.37L139.85 879.43L138.85 880.48L137.88 881.53L136.93 882.59L136.01 883.64L135.12 884.7L134.25 885.75L133.41 886.8L132.6 887.86L131.82 888.91L131.06 889.96L130.33 891.02L129.63 892.07L128.95 893.12L128.3 894.18L127.67 895.23L127.07 896.29L126.49 897.34L125.93 898.39L125.4 899.45L124.9 900.5L124.41 901.55L123.95 902.61L123.5 903.66L123.08 904.72L122.67 905.77L122.28 906.82L121.9 907.88L121.53 908.93L121.17 909.98L120.81 911.04L120.45 912.09L120.1 913.15L119.74 914.2L119.4 915.25L119.07 916.31L118.75 917.36L118.44 918.41L118.16 919.47L117.9 920.52L117.67 921.57L117.46 922.63L117.27 923.68L117.11 924.74L116.97 925.79L116.85 926.84L116.75 927.9L116.67 928.95L116.6 930L116.54 931.06L116.49 932.11L116.45 933.17L116.42 934.22L116.4 935.27L116.38 936.33L116.36 937.38L116.35 938.43L116.34 939.49L116.33 940.54L116.32 941.6L116.32 942.65L116.31 943.7L116.31 944.76L116.31 945.81L116.31 946.86L116.3 947.92L116.3 948.97L116.3 950.03L116.3 951.08L116.3 952.13L116.3 953.19L116.3 954.24L116.3 955.29L116.3 956.35L116.3 957.4L116.3 958.45L116.3 959.51L116.3 960.56L116.3 961.62L116.3 962.67L116.3 963.72L116.3 964.78L116.3 965.83L116.3 966.88L116.3 967.94L116.3 968.99L116.3 970.05L116.3 971.1L116.3 972.15L116.3 973.21"/><path d="M116.3 810.25L116.3 811.31L116.3 812.38L116.3 813.45L116.3 814.51L116.3 815.58L116.3 816.65L116.3 817.71L116.3 818.78L116.3 819.85L116.3 820.91L116.3 821.98L116.3 823.05L116.3 824.11L116.3 825.18L116.3 826.25L116.3 827.31L116.3 828.38L116.3 829.45L116.3 830.51L116.3 831.58L116.3 832.65L116.3 833.71L116.3 834.78L116.31 835.85L116.31 836.91L116.31 837.98L116.31 839.05L116.32 840.11L116.32 841.18L116.32 842.25L116.33 843.31L116.34 844.38L116.35 845.45L116.36 846.51L116.38 847.58L116.4 848.65L116.43 849.71L116.46 850.78L116.49 851.85L116.54 852.91L116.59 853.98L116.66 855.05L116.74 856.11L116.83 857.18L116.94 858.25L117.07 859.31L117.22 860.38L117.39 861.45L117.58 862.51L117.8 863.58L118.04 864.65L118.3 865.71L118.58 866.78L118.88 867.85L119.19 868.91L119.52 869.98L119.85 871.05L120.19 872.11L120.53 873.18L120.88 874.25L121.23 875.31L121.58 876.38L121.94 877.45L122.31 878.51L122.69 879.58L123.08 880.65L123.49 881.71L123.92 882.78L124.37 883.85L124.84 884.91L125.34 885.98L125.85 887.05L126.39 888.11L126.95 889.18L127.53 890.25L128.14 891.31L128.78 892.38L129.44 893.45L130.12 894.51L130.84 895.58L131.58 896.65L132.35 897.71L133.14 898.78L133.97 899.85L134.82 900.91L135.7 901.98L136.61 903.05L137.55 904.11L138.52 905.18L139.52 906.25L140.55 907.31L141.61 908.38L142.7 909.45L143.82 910.51L144.96 911.58L146.14 912.65L147.34 913.71L148.58 914.78L149.84 915.85L151.12 916.91L152.44 917.98L153.78 919.05L155.14 920.11L156.53 921.18L157.95 922.25L159.38 923.31L160.84 924.38L162.32 925.45L163.81 926.51L165.33 927.58L166.86 928.65L168.4 929.71L169.96 930.78L171.53 931.85L173.11 932.91L174.69 933.98L176.29 935.05L177.89 936.11L179.49 937.18L181.09 938.25L182.69 939.31L184.29 940.38L185.88 941.45L187.46 942.51L189.04 943.58L190.6 944.65L192.15 945.71L193.68 946.78L195.19 947.85L196.68 948.91L198.15 949.98L199.59 951.05L201 952.11L202.39 953.18L203.74 954.25L205.05 955.31L206.33 956.38L207.57 957.45L208.76 958.51L209.92 959.58L211.03 960.65L212.09 961.71L213.1 962.78L214.06 963.85L214.97 964.91L215.82 965.98L216.62 967.05L217.36 968.11L218.04 969.18L218.66 970.25L219.22 971.31L219.71 972.38L220.15 973.45L220.52 974.51L220.82 975.58L221.06 976.65L221.24 977.71L221.34 978.78L221.39 979.85L221.35 980.91L221.24 981.98L221.04 983.05L220.75 984.11L220.38 985.18L219.93 986.25L219.4 987.31L218.79 988.38L218.1 989.45L217.33 990.51L216.49 991.58L215.58 992.65L214.59 993.71L213.54 994.78L212.42 995.85L211.23 996.91L209.99 997.98L208.69 999.05L207.33 1000.11L205.92 1001.18L204.46 1002.25L202.95 1003.31L201.4 1004.38L199.81 1005.45L198.19 1006.52L196.53 1007.58L194.84 1008.65L193.13 1009.72L191.39 1010.78L189.63 1011.85L187.86 1012.92L186.07 1013.98L184.27 1015.05L182.47 1016.12L180.66 1017.18L178.85 1018.25L177.04 1019.32L175.24 1020.38L173.44 1021.45L171.66 1022.52L169.88 1023.58L168.13 1024.65L166.39 1025.72L164.66 1026.78L162.96 1027.85L161.29 1028.92L159.64 1029.98L158.01 1031.05L156.42 1032.12L154.85 1033.18L153.32 1034.25L151.82 1035.32L150.35 1036.38L148.91 1037.45L147.51 1038.52L146.15 1039.58L144.83 1040.65L143.54 1041.72L142.28 1042.78L141.07 1043.85L139.89 1044.92L138.75 1045.98L137.65 1047.05L136.59 1048.12L135.56 1049.18L134.57 1050.25L133.62 1051.32L132.71 1052.38L131.83 1053.45L130.98 1054.52L130.17 1055.58L129.4 1056.65L128.65 1057.72L127.94 1058.78L127.27 1059.85L126.62 1060.92L126 1061.98L125.42 1063.05L124.86 1064.12L124.33 1065.18L123.82 1066.25L123.34 1067.32L122.89 1068.38L122.45 1069.45L122.03 1070.52L121.62 1071.58L121.23 1072.65L120.83 1073.72L120.44 1074.78L120.06 1075.85L119.68 1076.92L119.3 1077.98L118.95 1079.05L118.61 1080.12L118.29 1081.18L118 1082.25L117.73 1083.32L117.5 1084.38L117.29 1085.45L117.12 1086.52L116.97 1087.58L116.84 1088.65L116.73 1089.72L116.65 1090.78L116.57 1091.85L116.52 1092.92L116.47 1093.98L116.43 1095.05L116.4 1096.12L116.38 1097.18L116.36 1098.25L116.35 1099.32L116.34 1100.38L116.33 1101.45L116.32 1102.52L116.32 1103.58L116.31 1104.65L116.31 1105.72L116.31 1106.78L116.31 1107.85L116.3 1108.92L116.3 1109.98L116.3 1111.05L116.3 1112.12L116.3 1113.18L116.3 1114.25L116.3 1115.32L116.3 1116.38L116.3 1117.45L116.3 1118.52L116.3 1119.58L116.3 1120.65L116.3 1121.72L116.3 1122.78L116.3 1123.85L116.3 1124.92L116.3 1125.98L116.3 1127.05L116.3 1128.12L116.3 1129.18L116.3 1130.25"/><path d="M116.3 914.11L116.31 915.19L116.31 916.28L116.31 917.36L116.32 918.44L116.32 919.52L116.33 920.6L116.34 921.69L116.35 922.77L116.37 923.85L116.39 924.93L116.42 926.02L116.46 927.1L116.51 928.18L116.58 929.26L116.67 930.34L116.77 931.43L116.91 932.51L117.08 933.59L117.28 934.67L117.52 935.76L117.8 936.84L118.13 937.92L118.49 939L118.9 940.08L119.33 941.17L119.78 942.25L120.24 943.33L120.72 944.41L121.2 945.5L121.7 946.58L122.21 947.66L122.75 948.74L123.32 949.83L123.93 950.91L124.59 951.99L125.29 953.07L126.05 954.15L126.87 955.24L127.75 956.32L128.69 957.4L129.69 958.48L130.77 959.57L131.93 960.65L133.16 961.73L134.48 962.81L135.89 963.89L137.39 964.98L139 966.06L140.7 967.14L142.51 968.22L144.44 969.31L146.49 970.39L148.67 971.47L150.98 972.55L153.42 973.63L156.01 974.72L158.75 975.8L161.64 976.88L164.7 977.96L167.92 979.05L171.32 980.13L174.9 981.21L178.67 982.29L182.64 983.38L186.8 984.46L191.18 985.54L195.76 986.62L200.57 987.7L205.61 988.79L210.87 989.87L216.38 990.95L222.13 992.03L228.13 993.12L234.38 994.2L240.89 995.28L247.67 996.36L254.72 997.44L262.03 998.53L269.63 999.61L277.5 1000.69L285.66 1001.77L294.1 1002.86L302.83 1003.94L311.85 1005.02L321.15 1006.1L330.74 1007.18L340.62 1008.27L350.78 1009.35L361.23 1010.43L371.96 1011.51L382.96 1012.6L394.24 1013.68L405.79 1014.76L417.6 1015.84L429.66 1016.92L441.98 1018.01L454.53 1019.09L467.31 1020.17L480.32 1021.25L493.53 1022.34L506.94 1023.42L520.53 1024.5L534.3 1025.58L548.23 1026.67L562.29 1027.75L576.49 1028.83L590.79 1029.91L605.18 1030.99L619.65 1032.08L634.17 1033.16L648.72 1034.24L663.29 1035.32L677.86 1036.41L692.39 1037.49L706.88 1038.57L721.29 1039.65L735.61 1040.73L749.81 1041.82L763.86 1042.9L777.76 1043.98L791.46 1045.06L804.95 1046.15L818.2 1047.23L831.19 1048.31L843.9 1049.39L856.3 1050.47L868.36 1051.56L880.08 1052.64L891.41 1053.72L902.35 1054.8L912.87 1055.89L922.94 1056.97L932.55 1058.05L941.69 1059.13L950.32 1060.22L958.43 1061.3L966.01 1062.38L973.04 1063.46L979.51 1064.54L985.4 1065.63L990.69 1066.71L995.39 1067.79L999.47 1068.87L1002.93 1069.96L1005.76 1071.04L1007.96 1072.12L1009.52 1073.2L1010.43 1074.28L1010.7 1075.37L1010.34 1076.45L1009.35 1077.53L1007.74 1078.61L1005.51 1079.7L1002.66 1080.78L999.2 1081.86L995.13 1082.94L990.48 1084.02L985.24 1085.11L979.42 1086.19L973.04 1087.27L966.12 1088.35L958.66 1089.44L950.68 1090.52L942.19 1091.6L933.22 1092.68L923.78 1093.76L913.89 1094.85L903.57 1095.93L892.84 1097.01L881.72 1098.09L870.23 1099.18L858.39 1100.26L846.23 1101.34L833.76 1102.42L821.01 1103.51L808 1104.59L794.75 1105.67L781.3 1106.75L767.65 1107.83L753.84 1108.92L739.88 1110L725.8 1111.08L711.62 1112.16L697.36 1113.25L683.05 1114.33L668.7 1115.41L654.34 1116.49L639.99 1117.57L625.66 1118.66L611.37 1119.74L597.15 1120.82L583.01 1121.9L568.97 1122.99L555.04 1124.07L541.25 1125.15L527.59 1126.23L514.1 1127.31L500.78 1128.4L487.65 1129.48L474.72 1130.56L461.99 1131.64L449.48 1132.73L437.2 1133.81L425.15 1134.89L413.35 1135.97L401.8 1137.06L390.51 1138.14L379.47 1139.22L368.71 1140.3L358.21 1141.38L347.99 1142.47L338.05 1143.55L328.38 1144.63L319 1145.71L309.89 1146.8L301.06 1147.88L292.51 1148.96L284.24 1150.04L276.25 1151.12L268.53 1152.21L261.08 1153.29L253.9 1154.37L246.98 1155.45L240.32 1156.54L233.92 1157.62L227.78 1158.7L221.88 1159.78L216.22 1160.86L210.8 1161.95L205.61 1163.03L200.64 1164.11L195.9 1165.19L191.37 1166.28L187.05 1167.36L182.93 1168.44L179 1169.52L175.27 1170.6L171.72 1171.69L168.35 1172.77L165.15 1173.85L162.11 1174.93L159.23 1176.02L156.5 1177.1L153.93 1178.18L151.49 1179.26L149.18 1180.35L147.01 1181.43L144.96 1182.51L143.03 1183.59L141.21 1184.67L139.5 1185.76L137.89 1186.84L136.37 1187.92L134.96 1189L133.62 1190.09L132.38 1191.17L131.21 1192.25L130.12 1193.33L129.1 1194.41L128.14 1195.5L127.25 1196.58L126.42 1197.66L125.64 1198.74L124.92 1199.83L124.25 1200.91L123.63 1201.99L123.04 1203.07L122.5 1204.15L121.98 1205.24L121.48 1206.32L121 1207.4L120.53 1208.48L120.06 1209.57L119.61 1210.65L119.17 1211.73L118.75 1212.81L118.37 1213.9L118.02 1214.98L117.71 1216.06L117.45 1217.14L117.22 1218.22L117.03 1219.31L116.87 1220.39L116.75 1221.47L116.65 1222.55L116.57 1223.64L116.5 1224.72L116.45 1225.8L116.42 1226.88L116.39 1227.96L116.37 1229.05L116.35 1230.13L116.34 1231.21L116.33 1232.29L116.32 1233.38L116.31 1234.46L116.31 1235.54L116.31 1236.62L116.31 1237.7L116.3 1238.79"/></g>
<path d="M116.3 111.5C116.3 117.95 115.57 142.37 116.3 150.2C117.03 158.03 119.37 155.02 120.7 158.5C122.03 161.98 123.35 166.92 124.3 171.1C125.25 175.28 126.13 179.78 126.4 183.6C126.67 187.42 126.42 190.52 125.9 194C125.38 197.48 124.35 201 123.3 204.5C122.25 208 120.58 211.75 119.6 215C118.62 218.25 117.95 221 117.4 224C116.85 227 116.52 229.5 116.3 233C116.08 236.5 116.05 241.33 116.1 245C116.15 248.67 116.25 252 116.6 255C116.95 258 117.38 258.83 118.2 263C119.02 267.17 120.22 274.97 121.5 280C122.78 285.03 124.58 288.8 125.9 293.2C127.22 297.6 128.08 301.27 129.4 306.4C130.72 311.53 132.33 319.3 133.8 324C135.27 328.7 136.3 331.07 138.2 334.6C140.1 338.13 142.85 342.12 145.2 345.2C147.55 348.28 149.35 350.45 152.3 353.1C155.25 355.75 158.2 358.37 162.9 361.1C167.6 363.83 174.32 366.85 180.5 369.5C186.68 372.15 191.47 373.65 200 377C208.53 380.35 221.13 385.38 231.7 389.6C242.27 393.82 252.68 398.37 263.4 402.3C274.12 406.23 286.38 410.33 296 413.2C305.62 416.07 313.38 416.95 321.1 419.5C328.82 422.05 335.25 425.5 342.3 428.5C349.35 431.5 356.7 434.07 363.4 437.5C370.1 440.93 377.92 445.58 382.5 449.1C387.08 452.62 389.15 455.78 390.9 458.6C392.65 461.42 393 463.53 393 466C393 468.47 392.3 471.1 390.9 473.4C389.5 475.7 388.3 476.97 384.6 479.8C380.9 482.63 374.87 486.53 368.7 490.4C362.53 494.27 354.65 499.03 347.6 503C340.55 506.97 333.22 509.9 326.4 514.2C319.58 518.5 311.32 524.9 306.7 528.8C302.08 532.7 300.77 534.22 298.7 537.6C296.63 540.98 295.62 545.43 294.3 549.1C292.98 552.77 292.12 555.63 290.8 559.6C289.48 563.57 288.17 568.93 286.4 572.9C284.63 576.87 282.7 579.73 280.2 583.4C277.7 587.07 274.33 591.37 271.4 594.9C268.47 598.43 265.23 601.52 262.6 604.6C259.97 607.68 257.8 610.17 255.6 613.4C253.4 616.63 251.25 620.23 249.4 624C247.55 627.77 245.98 632.07 244.5 636C243.02 639.93 242.63 643.9 240.5 647.6C238.37 651.3 234.63 654.38 231.7 658.2C228.77 662.02 226.58 666.38 222.9 670.5C219.22 674.62 213.28 679.08 209.6 682.9C205.92 686.72 203.13 690.03 200.8 693.4C198.47 696.77 196.7 699.87 195.6 703.1C194.5 706.33 194.07 709.57 194.2 712.8C194.33 716.03 195 719.27 196.4 722.5C197.8 725.73 200.1 728.97 202.6 732.2C205.1 735.43 208.62 738.4 211.4 741.9C214.18 745.4 216.65 749.12 219.3 753.2C221.95 757.28 225.23 762 227.3 766.4C229.37 770.8 230.9 776 231.7 779.6C232.5 783.2 232.4 784.62 232.1 788C231.8 791.38 231.15 795.87 229.9 799.9C228.65 803.93 226.8 808.23 224.6 812.2C222.4 816.17 219.63 820.02 216.7 823.7C213.77 827.38 210.38 830.58 207 834.3C203.62 838.02 199.32 841.97 196.4 846C193.48 850.03 191.27 854.32 189.5 858.5C187.73 862.68 186.43 867.23 185.8 871.1C185.17 874.97 185.23 877.82 185.7 881.7C186.17 885.58 186.88 890.17 188.6 894.4C190.32 898.63 193.17 902.52 196 907.1C198.83 911.68 202.25 917.32 205.6 921.9C208.95 926.48 211.95 930.37 216.1 934.6C220.25 938.83 225.57 943.25 230.5 947.3C235.43 951.35 241.03 955.53 245.7 958.9C250.37 962.27 252.9 964.3 258.5 967.5C264.1 970.7 270.43 974.42 279.3 978.1C288.17 981.78 301.02 986.45 311.7 989.6C322.38 992.75 332.82 994.88 343.4 997C353.98 999.12 365.77 1000.88 375.2 1002.3C384.63 1003.72 390.82 1004.3 400 1005.5C409.18 1006.7 416.97 1008 430.3 1009.5C443.63 1011 446.72 1011.33 480 1014.5C513.28 1017.67 580 1023.87 630 1028.5C680 1033.13 745 1038.8 780 1042.3C815 1045.8 824.72 1047.77 840 1049.5C855.28 1051.23 861.13 1051.63 871.7 1052.7C882.27 1053.77 892.82 1054.85 903.4 1055.9C913.98 1056.95 923.47 1057.82 935.2 1059C946.93 1060.18 964.07 1061.53 973.8 1063C983.53 1064.47 988.32 1066.35 993.6 1067.8C998.88 1069.25 1002.58 1070.5 1005.5 1071.7C1008.42 1072.9 1011.1 1073.93 1011.1 1075C1011.1 1076.07 1008.42 1076.93 1005.5 1078.1C1002.58 1079.27 998.88 1080.68 993.6 1082C988.32 1083.32 981.07 1084.6 973.8 1086C966.53 1087.4 956.43 1089.43 950 1090.4C943.57 1091.37 942.97 1091.03 935.2 1091.8C927.43 1092.57 913.98 1093.85 903.4 1095C892.82 1096.15 882.27 1097.47 871.7 1098.7C861.13 1099.93 855.28 1100.97 840 1102.4C824.72 1103.83 815 1104.53 780 1107.3C745 1110.07 683.33 1114.2 630 1119C576.67 1123.8 495.23 1132.67 460 1136.1C424.77 1139.53 434.32 1138.13 418.6 1139.6C402.88 1141.07 383.32 1142.8 365.7 1144.9C348.08 1147 328.85 1149.65 312.9 1152.2C296.95 1154.75 281.28 1157.77 270 1160.2C258.72 1162.63 252.87 1164.47 245.2 1166.8C237.53 1169.13 230.17 1171.63 224 1174.2C217.83 1176.77 213.48 1179 208.2 1182.2C202.92 1185.4 197.07 1189.42 192.3 1193.4C187.53 1197.38 183.13 1202.03 179.6 1206.1C176.07 1210.17 173.28 1213.98 171.1 1217.8C168.92 1221.62 167.75 1224.97 166.5 1229C165.25 1233.03 164.47 1237.5 163.6 1242C162.73 1246.5 162.18 1250.45 161.3 1256C160.42 1261.55 159.57 1268.05 158.3 1275.3C157.03 1282.55 155.25 1291.45 153.7 1299.5C152.15 1307.55 150.55 1316.48 149 1323.6C147.45 1330.72 146.1 1336 144.4 1342.2C142.7 1348.4 140.92 1354.5 138.8 1360.8C136.68 1367.1 134 1373.63 131.7 1380C129.4 1386.37 127.03 1393 125 1399C122.97 1405 120.77 1411.67 119.5 1416C118.23 1420.33 117.82 1421 117.4 1425C116.98 1429 117.07 1437.5 117 1440" fill="none" stroke="#4756b3" stroke-width="3" stroke-linejoin="round"/>
<g stroke="#2a2a2a" fill="none">
<line x1="116.1" y1="25" x2="116.1" y2="1581.5" stroke-width="2.6"/>
<line x1="115" y1="26.2" x2="1096" y2="26.2" stroke-width="2.2"/>
<line x1="1095.2" y1="25" x2="1095.2" y2="1584" stroke-width="3.2" stroke="#505050"/>
<line x1="117" y1="1583" x2="1096" y2="1583" stroke-width="2.4" stroke="#444"/>
</g>
<line x1="116" y1="33" x2="116" y2="38.5" stroke="#4756b3" stroke-width="2.6"/>
<line x1="116" y1="1311.5" x2="116" y2="1324.5" stroke="#4756b3" stroke-width="2.6"/>
<line x1="117" y1="1422" x2="117" y2="1442" stroke="#4756b3" stroke-width="2"/>
<line x1="116" y1="112" x2="116" y2="150" stroke="#4756b3" stroke-width="2.4"/>
<g stroke="#3a3a3a" stroke-width="2.3"><line x1="105.5" y1="104.2" x2="117" y2="104.2"/><line x1="105.5" y1="298.9" x2="117" y2="298.9"/><line x1="105.5" y1="494" x2="117" y2="494"/><line x1="105.5" y1="689" x2="117" y2="689"/><line x1="105.5" y1="883.3" x2="117" y2="883.3"/><line x1="105.5" y1="1077.6" x2="117" y2="1077.6"/><line x1="105.5" y1="1273.5" x2="117" y2="1273.5"/><line x1="105.5" y1="1467.9" x2="117" y2="1467.9"/><line x1="312.3" y1="1583" x2="312.3" y2="1594"/><line x1="507.7" y1="1583" x2="507.7" y2="1594"/><line x1="703.7" y1="1583" x2="703.7" y2="1594"/><line x1="899.1" y1="1583" x2="899.1" y2="1594"/></g>
<line x1="118.2" y1="1584.5" x2="118.2" y2="1594" stroke="#c4c4c4" stroke-width="1.4"/>
<circle cx="1073" cy="1582" r="2" fill="#f05050" opacity="0.7"/>
<g fill="none" stroke-width="2.2">
<path d="M130 313.2 L344.3 313.2 M145.2 304.7 L130.5 313.2 L145.2 323.2" stroke="#555"/>
<path d="M132.3 1378 L356.6 1378 M149 1368.3 L132.8 1378 L149 1387.8" stroke="#1a1a1a"/>
<path d="M971.4 1078.4 L991.2 1167.3 M964.3 1095.5 L971.4 1079 L984.1 1091.5" stroke="#333"/>
</g>
<g font-size="37.5"><g class="yl"><text x="57.4" y="116.1" textLength="38.5" lengthAdjust="spacingAndGlyphs">25</text><text x="57.4" y="312.8" textLength="38.5" lengthAdjust="spacingAndGlyphs">20</text><text x="57.85" y="507.2" textLength="36.6" lengthAdjust="spacingAndGlyphs">15</text><text x="56.2" y="700" textLength="37.3" lengthAdjust="spacingAndGlyphs">10</text><text x="71.4" y="898.7" textLength="16.9" lengthAdjust="spacingAndGlyphs" font-style="italic">5</text><text x="64" y="1091.6" textLength="21.35" lengthAdjust="spacingAndGlyphs">0</text><text x="57.3" y="1282.7" textLength="30.7" lengthAdjust="spacingAndGlyphs">-5</text><text x="43" y="1481.5" textLength="51.4" lengthAdjust="spacingAndGlyphs">-10</text></g><text x="92.9" y="1633.2" textLength="48.2" lengthAdjust="spacingAndGlyphs">0.0</text><text x="289.9" y="1635.9" textLength="46.5" lengthAdjust="spacingAndGlyphs">0.3</text><text x="482.1" y="1635.3" textLength="48.5" lengthAdjust="spacingAndGlyphs">0.6</text><text x="681.2" y="1637.7" textLength="47.6" lengthAdjust="spacingAndGlyphs">0.9</text><text x="876.85" y="1637.2" textLength="48.05" lengthAdjust="spacingAndGlyphs">1.2</text><text x="1069.9" y="1635.9" textLength="46.4" lengthAdjust="spacingAndGlyphs">1.5</text></g>
<g font-size="43">
<text x="355.1" y="322.5" textLength="196.3" lengthAdjust="spacingAndGlyphs">Signal start</text>
<text x="361" y="1386.9" textLength="184.9" lengthAdjust="spacingAndGlyphs">Signal end</text>
<text x="848.4" y="1221.9" textLength="224.6" lengthAdjust="spacingAndGlyphs">Ground peak</text>
<text x="458" y="1692.2" textLength="231" lengthAdjust="spacingAndGlyphs" font-size="43.5">Energy (volt)</text>
<text transform="translate(46.6 960.5) rotate(-90)" font-size="39" textLength="171.3" lengthAdjust="spacingAndGlyphs">Height (m)</text>
</g>
</svg>
</body></html>
